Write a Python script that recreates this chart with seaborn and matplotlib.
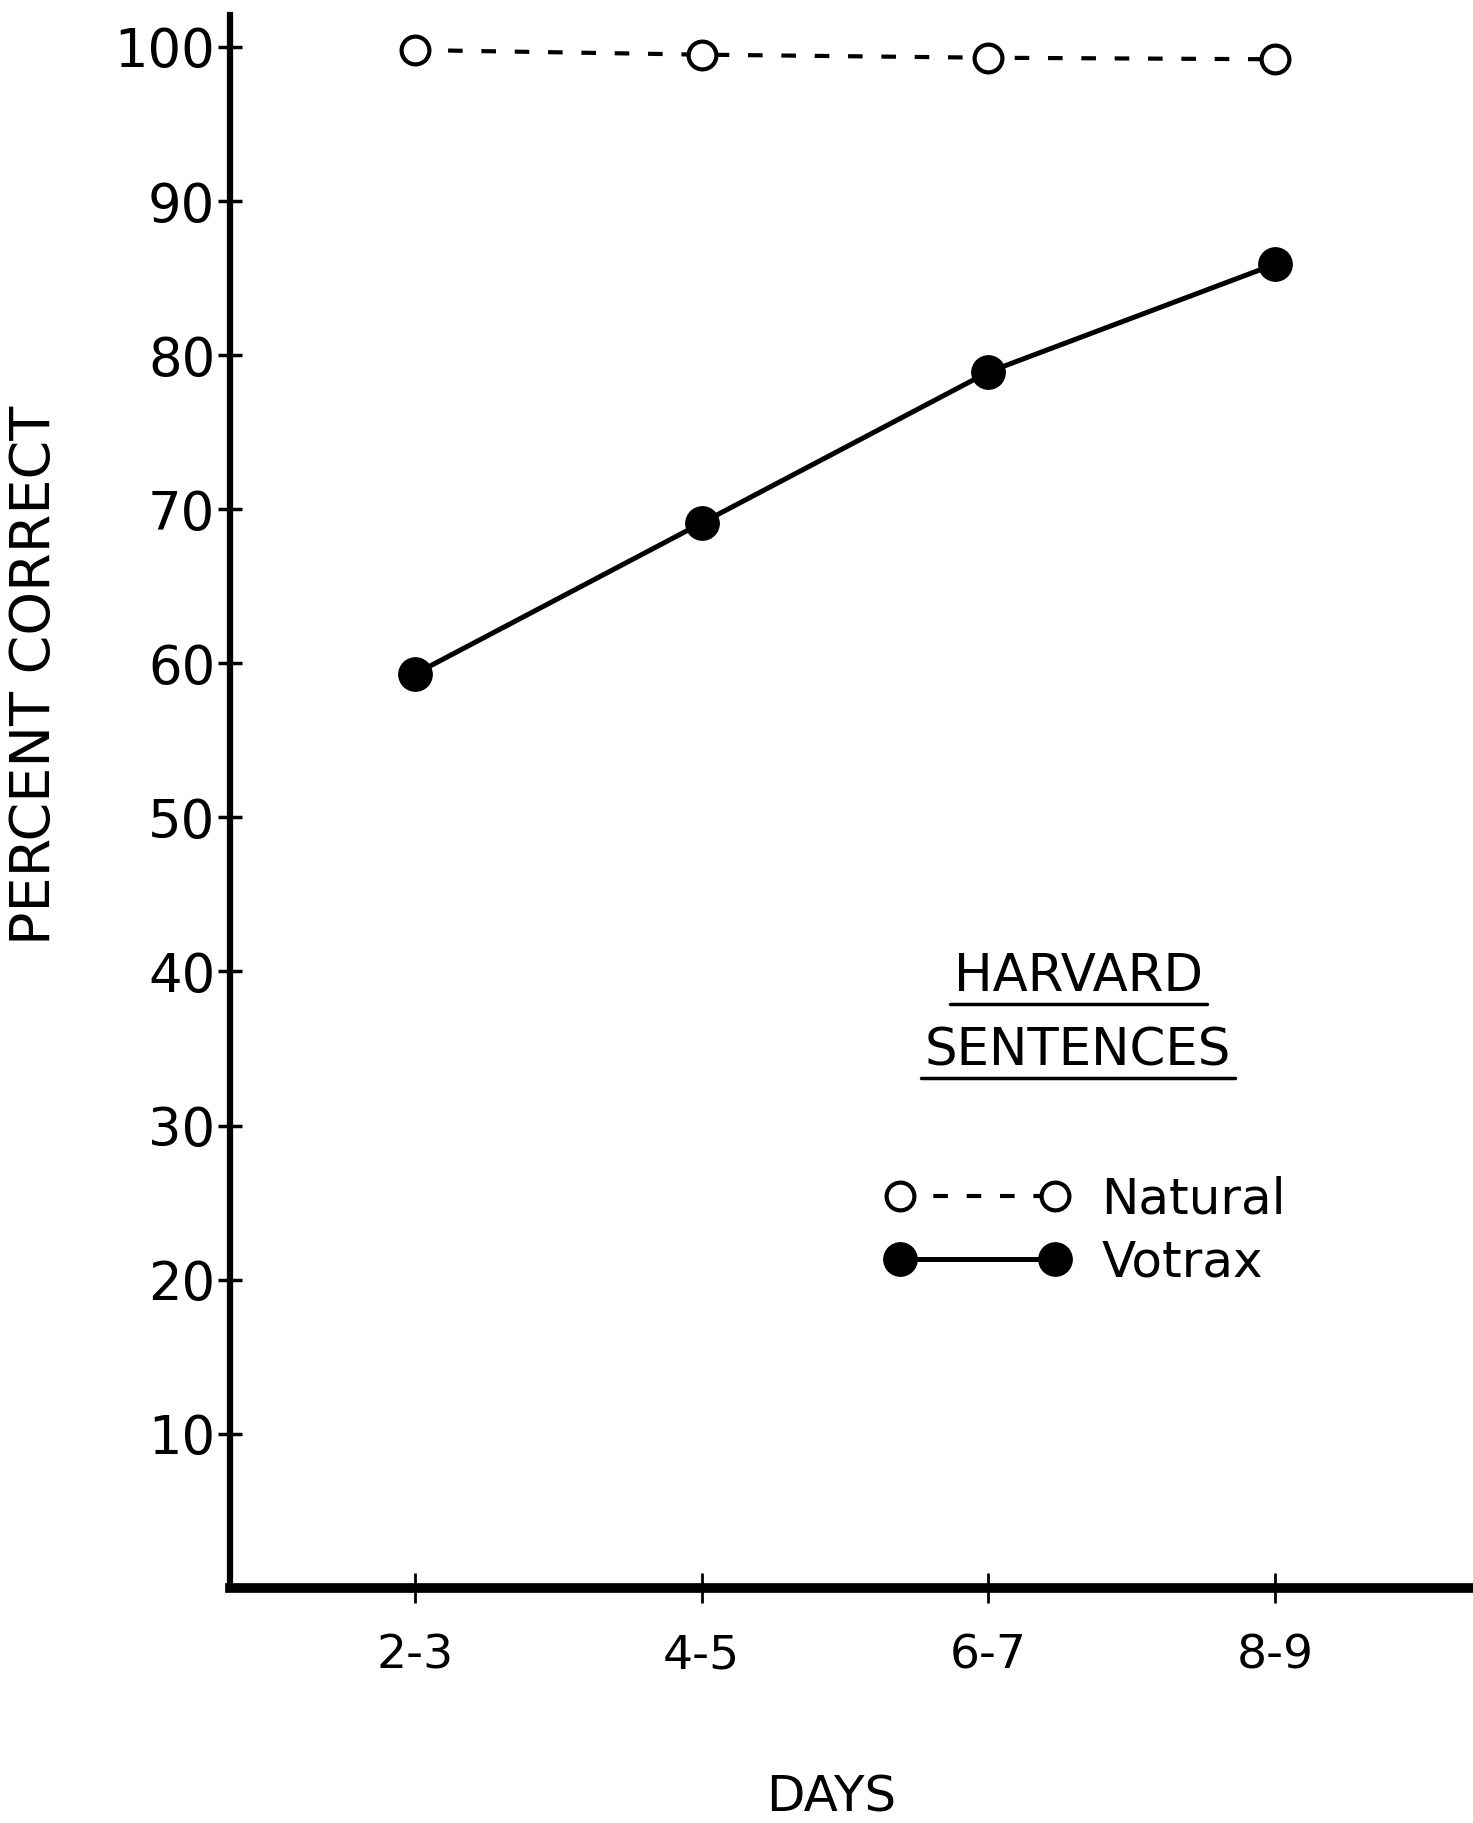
import matplotlib
matplotlib.use('Agg')
import matplotlib.pyplot as plt
from matplotlib.lines import Line2D
import seaborn as sns

# data
days = ['2-3', '4-5', '6-7', '8-9']
natural = [99.8, 99.5, 99.3, 99.2]
votrax = [59.3, 69.1, 78.9, 85.9]
y_ticks = [10, 20, 30, 40, 50, 60, 70, 80, 90, 100]

sns.set_style('ticks', {'axes.edgecolor': 'black', 'text.color': 'black',
                        'xtick.color': 'black', 'ytick.color': 'black',
                        'axes.labelcolor': 'black'})
plt.rcParams['font.family'] = ['DejaVu Sans']

fig = plt.figure(figsize=(14.73, 18.23), dpi=100)
ax = fig.add_axes([0.156, 0.129, 0.842, 0.863])

sns.lineplot(x=days, y=natural, ax=ax, sort=False, color='black', lw=3,
             linestyle=(0, (3.5, 4.5)), marker='o', markersize=20,
             markerfacecolor='white', markeredgecolor='black', markeredgewidth=3,
             label='Natural')
sns.lineplot(x=days, y=votrax, ax=ax, sort=False, color='black', lw=3.6,
             marker='o', markersize=24, markerfacecolor='black',
             markeredgecolor='black', markeredgewidth=1, label='Votrax')

ax.set_xlim(-0.645, 3.68)
ax.set_ylim(0, 102.1)
ax.set_yticks(y_ticks)
ax.set_yticklabels([str(t) for t in y_ticks], fontsize=38)
ax.set_xticks(range(len(days)))
ax.set_xticklabels(days, fontsize=34)

sns.despine(ax=ax)
ax.spines['left'].set_linewidth(4.5)
ax.spines['bottom'].set_linewidth(7)
ax.tick_params(axis='y', direction='inout', length=17, width=2.5, pad=2)
ax.tick_params(axis='x', direction='inout', length=22, width=2, pad=22)

ax.set_ylabel('PERCENT CORRECT', fontsize=40)
ax.yaxis.set_label_coords(-0.135, 0.58)
ax.set_xlabel('DAYS', fontsize=36)
ax.xaxis.set_label_coords(0.485, -0.118)

# legend
leg = ax.legend(frameon=False, numpoints=2, fontsize=36, handlelength=3.7,
                handletextpad=0.63, labelspacing=0.3, loc='center left',
                bbox_to_anchor=(0.492, 0.227))

t1 = ax.text(0.684, 0.388, 'HARVARD', transform=ax.transAxes, fontsize=37,
             ha='center', va='center')
t2 = ax.text(0.684, 0.341, 'SENTENCES', transform=ax.transAxes, fontsize=37,
             ha='center', va='center')

# underline the legend title
fig.canvas.draw()
inv = fig.transFigure.inverted()
for t in [t1, t2]:
    bb = t.get_window_extent()
    (x0, y0), (x1, y1) = inv.transform([(bb.x0 - 4, bb.y0 - 2), (bb.x1 + 4, bb.y0 - 2)])
    fig.add_artist(Line2D([x0, x1], [y0, y1], transform=fig.transFigure,
                          color='black', lw=2.5))

fig.savefig('out.png', dpi=100, facecolor='white')
